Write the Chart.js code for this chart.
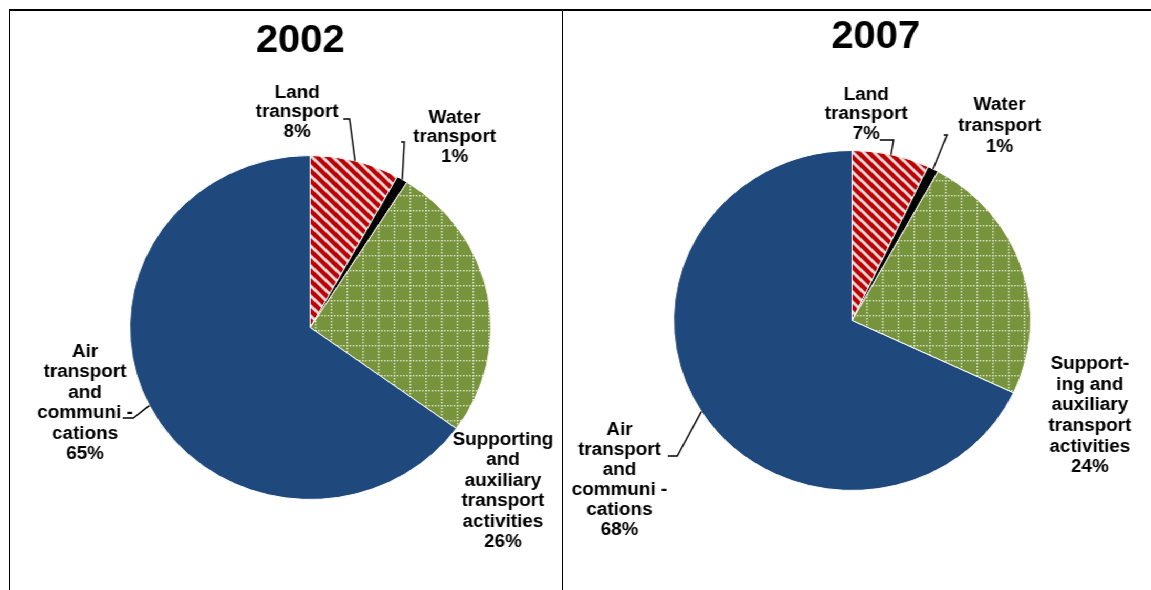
<!DOCTYPE html>
<html>
<head>
<meta charset="utf-8">
<script src="https://cdn.jsdelivr.net/npm/chart.js@4.4.1/dist/chart.umd.min.js"></script>
<style>
  html, body { margin: 0; padding: 0; background: #fff; }
  #page { position: relative; width: 1151px; height: 590px; overflow: hidden; }
  /* the reference is slightly stretched horizontally, so the drawing layer is too */
  #stage { position: absolute; left: 0; top: 0; width: 1096px; height: 590px;
           transform: scaleX(1.05); transform-origin: 0 0; }
  #stage canvas { position: absolute; left: 0; top: 0; }
  .rule { position: absolute; background: #000; }
</style>
</head>
<body>
<div id="page">
  <div id="stage">
    <canvas id="pie2002"></canvas>
    <canvas id="pie2007"></canvas>
  </div>
  <div class="rule" style="left:9px; top:9px; width:1142px; height:2px;"></div>
  <div class="rule" style="left:9px; top:9px; width:1px; height:581px;"></div>
  <div class="rule" style="left:562px; top:9px; width:1px; height:581px;"></div>
</div>
<script>
// ---- data ----
const categories = ['Land transport', 'Water transport',
  'Supporting and auxiliary transport activities', 'Air transport and communications'];
const years = ['2002', '2007'];
const share2002 = [8, 1, 26, 65];
const share2007 = [7, 1, 24, 68];
// how each category name is broken into lines on the labels
const labelLines2002 = [
  ['Land', 'transport'],
  ['Water', 'transport'],
  ['Supporting', 'and', 'auxiliary', 'transport', 'activities'],
  ['Air', 'transport', 'and', 'communi -', 'cations']
];
const labelLines2007 = [
  ['Land', 'transport'],
  ['Water', 'transport'],
  ['Support-', 'ing and', 'auxiliary', 'transport', 'activities'],
  ['Air', 'transport', 'and', 'communi -', 'cations']
];

// ---- layout (stage coordinates) ----
const W = 1096, H = 590;
const labelPos2002 = [
  { x: 283, y: 93, lh: 19.5, lead: [[327, 119], [333, 119]] },
  { x: 433, y: 118, lh: 19.5, lead: [[382, 142], [385, 142]] },
  { x: 479, y: 440, lh: 20.4, lead: null },
  { x: 81, y: 352, lh: 20.4, lead: [[117, 418], [127, 418]] }
];
const labelPos2007 = [
  { x: 825, y: 95, lh: 19.5, lead: [[838, 140], [851, 140]] },
  { x: 952, y: 105, lh: 21, lead: [[899, 135], [902, 135]] },
  { x: 1038, y: 364, lh: 20.7, lead: null },
  { x: 590, y: 430, lh: 20, lead: [[636, 456], [645, 456]] }
];

function stripes() {
  const n = 10;
  const c = document.createElement('canvas');
  c.width = n; c.height = n;
  const g = c.getContext('2d');
  g.fillStyle = '#c00000';
  g.fillRect(0, 0, n, n);
  g.strokeStyle = '#dcdcdc';
  g.lineWidth = 2.8;
  [-n, 0, n].forEach(o => {
    g.beginPath(); g.moveTo(o - 1, -1); g.lineTo(o + n + 1, n + 1); g.stroke();
  });
  return g.createPattern(c, 'repeat');
}

function dottedGrid() {
  const c = document.createElement('canvas');
  c.width = 15; c.height = 15;
  const g = c.getContext('2d');
  g.fillStyle = '#77933c';
  g.fillRect(0, 0, 15, 15);
  g.fillStyle = '#e4ead6';
  for (let i = 0; i < 15; i += 3) {
    g.fillRect(i, 0, 1.4, 1.4);
    g.fillRect(0, i, 1.4, 1.4);
  }
  return g.createPattern(c, 'repeat');
}

const fills = [stripes(), '#000000', dottedGrid(), '#1f497d'];

const labelPlugin = {
  id: 'pieLabels',
  afterDraw(chart, args, opts) {
    const ctx = chart.ctx;
    const arcs = chart.getDatasetMeta(0).data;
    const vals = chart.data.datasets[0].data;
    ctx.save();
    ctx.fillStyle = '#000';
    ctx.textAlign = 'center';
    ctx.textBaseline = 'middle';
    ctx.font = 'bold 38px "Liberation Sans", Arial, sans-serif';
    ctx.fillText(opts.title, opts.titleX, opts.titleY);

    ctx.font = 'bold 18px "Liberation Sans", Arial, sans-serif';
    opts.pos.forEach((p, i) => {
      const lines = opts.lines[i].concat([vals[i] + '%']);
      lines.forEach((t, k) => ctx.fillText(t, p.x, p.y + k * p.lh));
      if (p.lead) {
        const a = arcs[i].getProps(['x', 'y', 'startAngle', 'endAngle', 'outerRadius'], true);
        const mid = (a.startAngle + a.endAngle) / 2;
        ctx.strokeStyle = '#000';
        ctx.lineWidth = 1.4;
        ctx.beginPath();
        ctx.moveTo(p.lead[0][0], p.lead[0][1]);
        ctx.lineTo(p.lead[1][0], p.lead[1][1]);
        ctx.lineTo(a.x + Math.cos(mid) * a.outerRadius, a.y + Math.sin(mid) * a.outerRadius);
        ctx.stroke();
      }
    });
    ctx.restore();
  }
};

function makePie(canvasId, values, lines, pos, title, titleX, titleY, pad) {
  const cv = document.getElementById(canvasId);
  cv.width = W; cv.height = H;
  new Chart(cv, {
    type: 'pie',
    data: {
      labels: categories,
      datasets: [{
        data: values,
        backgroundColor: fills,
        borderColor: '#ffffff',
        borderWidth: 1
      }]
    },
    options: {
      responsive: false,
      animation: false,
      layout: { padding: pad },
      plugins: {
        legend: { display: false },
        tooltip: { enabled: false },
        pieLabels: { lines: lines, pos: pos, title: title, titleX: titleX, titleY: titleY }
      }
    },
    plugins: [labelPlugin]
  });
}

makePie('pie2002', share2002, labelLines2002, labelPos2002, years[0], 286, 42,
  { left: 123, top: 155, right: W - 123 - 345, bottom: H - 155 - 345 });
makePie('pie2007', share2007, labelLines2007, labelPos2007, years[1], 834, 38,
  { left: 641, top: 150, right: W - 641 - 341, bottom: H - 150 - 341 });
</script>
</body>
</html>
